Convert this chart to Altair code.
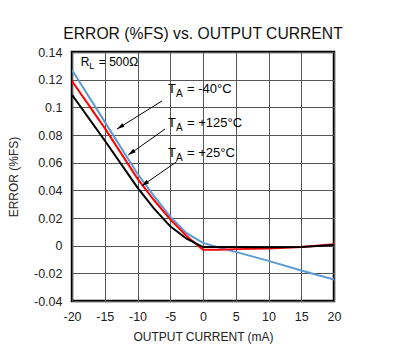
import altair as alt
import pandas as pd

# ---- data ----
current = [-20, -15, -10, -7.5, -5, -2.5, 0, 2.5, 5, 10, 15, 20]
err_m40 = [0.127, 0.0895, 0.052, 0.036, 0.021, 0.009, 0.002, -0.0015, -0.0045, -0.011, -0.018, -0.0245]
err_125 = [0.119, 0.085, 0.0485, 0.033, 0.019, 0.007, -0.003, -0.003, -0.0025, -0.002, -0.001, 0.001]
err_25 = [0.109, 0.076, 0.042, 0.027, 0.014, 0.005, -0.001, -0.001, -0.001, -0.0012, -0.001, 0.0005]

series_names = ["-40", "+125", "+25"]
series_colors = ["#5b9bd5", "#ff0000", "#000000"]

x_ticks = [-20, -15, -10, -5, 0, 5, 10, 15, 20]
y_ticks = [-0.04, -0.02, 0, 0.02, 0.04, 0.06, 0.08, 0.1, 0.12, 0.14]

# annotation labels: anchor, arrow tail, arrow head (data units)
ann_temp = ["-40°C", "+125°C", "+25°C"]
ann_x = [-5.35, -5.35, -5.35]
ann_y = [0.1101, 0.086, 0.0643]
arrow_x1 = [-6.26, -5.8, -4.02]
arrow_y1 = [0.1046, 0.0843, 0.0607]
arrow_x2 = [-13.13, -11.4, -9.36]
arrow_y2 = [0.0843, 0.0655, 0.0431]
arrow_angle = [238, 233, 234]

# R_L label anchor
rl_x = [-18.65]
rl_y = [0.1299]

FONT = "Liberation Sans"

rows = []
for name, vals in zip(series_names, [err_m40, err_125, err_25]):
    for c, v in zip(current, vals):
        rows.append({"series": name, "current": c, "error": v})
df = pd.DataFrame(rows)

ann = pd.DataFrame({
    "temp": ann_temp, "x": ann_x, "y": ann_y,
    "x1": arrow_x1, "y1": arrow_y1, "x2": arrow_x2, "y2": arrow_y2,
    "angle": arrow_angle,
})

xs = alt.Scale(domain=[-20, 20], nice=False)
ys = alt.Scale(domain=[-0.04, 0.14], nice=False)

ax_x = alt.Axis(values=x_ticks, title="OUTPUT CURRENT (mA)", labelOverlap=False, labelFlush=False,
                labelExpr="replace(datum.label, '\u2212', '-')")
ax_y = alt.Axis(values=y_ticks, title="ERROR (%FS)", labelOverlap=False, labelFlush=False,
                labelExpr="replace(format(datum.value, '.2~f'), '\u2212', '-')")

def X(f):
    return alt.X(f, scale=xs, axis=ax_x)

def Y(f):
    return alt.Y(f, scale=ys, axis=ax_y)

base = alt.Chart(df)

lines = base.mark_line(strokeWidth=2, clip=True).encode(
    x=X("current:Q"),
    y=Y("error:Q"),
    color=alt.Color("series:N", scale=alt.Scale(domain=series_names, range=series_colors), legend=None),
)

abase = alt.Chart(ann)
arrows = abase.mark_rule(color="black", strokeWidth=1).encode(
    x=X("x1:Q"), y=Y("y1:Q"), x2="x2:Q", y2="y2:Q",
)
heads = abase.mark_point(
    shape="M0,0L-0.45,1.6L0.45,1.6Z", filled=True, color="black", size=90, opacity=1
).encode(
    x=X("x2:Q"), y=Y("y2:Q"),
    angle=alt.Angle("angle:Q", scale=None),
)
t_main = abase.mark_text(align="left", baseline="alphabetic", font=FONT, fontSize=13, color="black").encode(
    x=X("x:Q"), y=Y("y:Q"), text=alt.value("T"),
)
t_sub = abase.mark_text(align="left", baseline="alphabetic", font=FONT, fontSize=10, color="black",
                        dx=8, dy=4).encode(
    x=X("x:Q"), y=Y("y:Q"), text=alt.value("A"),
)
t_rest = abase.mark_text(align="left", baseline="alphabetic", font=FONT, fontSize=13, color="black",
                         dx=19).encode(
    x=X("x:Q"), y=Y("y:Q"), text=alt.Text("label:N"),
).transform_calculate(label="'= ' + datum.temp")

rl_df = pd.DataFrame({"x": rl_x, "y": rl_y})
rb = alt.Chart(rl_df)
r_main = rb.mark_text(align="left", baseline="alphabetic", font=FONT, fontSize=12).encode(
    x=X("x:Q"), y=Y("y:Q"), text=alt.value("R"))
r_sub = rb.mark_text(align="left", baseline="alphabetic", font=FONT, fontSize=9, dx=8.5, dy=3.5).encode(
    x=X("x:Q"), y=Y("y:Q"), text=alt.value("L"))
r_rest = rb.mark_text(align="left", baseline="alphabetic", font=FONT, fontSize=12, dx=18).encode(
    x=X("x:Q"), y=Y("y:Q"), text=alt.value("= 500Ω"))

chart = alt.layer(lines, arrows, heads, t_main, t_sub, t_rest, r_main, r_sub, r_rest).properties(
    width=262, height=249,
    autosize=alt.AutoSizeParams(type="none"),
    padding={"left": 72, "top": 52, "right": 66, "bottom": 57},
    title=alt.TitleParams("ERROR (%FS) vs. OUTPUT CURRENT", font=FONT, fontSize=15.7,
                          fontWeight="normal", color="#111111", offset=3, anchor="middle"),
    background="white",
).configure_view(
    stroke="black", strokeWidth=2.5,
).configure_axis(
    grid=True, gridColor="#555555", gridWidth=1, gridOpacity=1,
    domain=False, ticks=False,
    labelFont=FONT, labelFontSize=12.5, labelColor="#222222",
    titleFont=FONT, titleFontSize=12, titleFontWeight="normal", titleColor="#222222",
).configure_axisY(
    labelPadding=10, titlePadding=13,
).configure_axisX(
    labelPadding=9, titlePadding=9,
)

chart.save("out.html", embed_options={"renderer": "svg", "actions": False})
